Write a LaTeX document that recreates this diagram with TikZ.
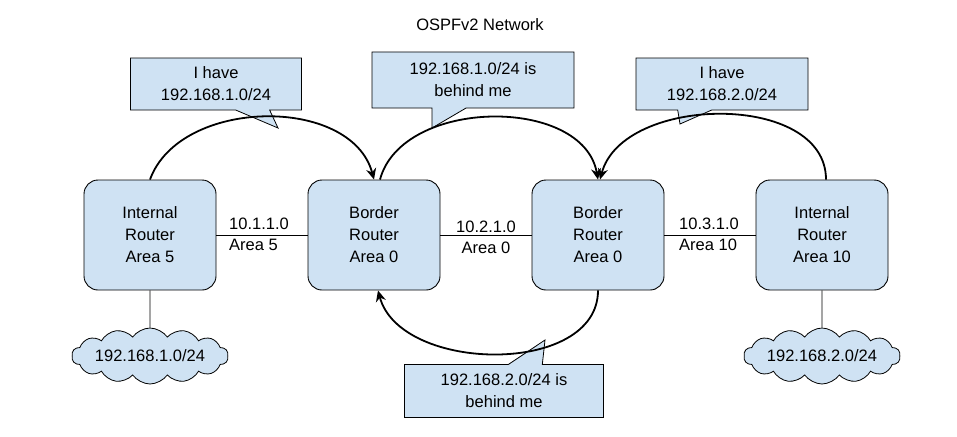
\documentclass[tikz,border=0pt]{standalone}
\usepackage{fontspec}
\setmainfont{Liberation Sans}
\usetikzlibrary{shapes.callouts,shapes.symbols,arrows.meta}
\definecolor{boxblue}{HTML}{CFE2F3}
\tikzset{
  router/.style={draw=black, line width=0.9pt, fill=boxblue, rounded corners=14pt, minimum width=132pt, minimum height=110pt, align=center, font=\fontsize{16.5}{22}\selectfont},
  note/.style={rectangle callout, draw=black, line width=0.8pt, fill=boxblue, callout pointer width=34pt, align=center, font=\fontsize{16.5}{22}\selectfont},
  net/.style={cloud, cloud puffs=14, cloud puff arc=110, aspect=4, draw=black, line width=0.8pt, fill=boxblue, minimum width=150pt, minimum height=42pt, inner sep=0pt, font=\fontsize{16.5}{19}\selectfont},
  lbl/.style={font=\fontsize{16.5}{19}\selectfont, inner sep=1pt},
  hop/.style={-{Stealth[length=11pt,width=10pt]}, line width=1.8pt}
}
\begin{document}
\begin{tikzpicture}[x=1pt,y=-1pt]
  \useasboundingbox (0,0) rectangle (957,436);
  \node[lbl] (title) at (480,25) {OSPFv2 Network};
  % routers
  \node[router] (ir5) at (150,235) {Internal\\Router\\Area 5};
  \node[router] (br1) at (374,235) {Border\\Router\\Area 0};
  \node[router] (br2) at (598,235) {Border\\Router\\Area 0};
  \node[router] (ir10) at (822,235) {Internal\\Router\\Area 10};
  % links
  \draw[line width=0.9pt] (ir5) -- (br1);
  \draw[line width=0.9pt] (br1) -- (br2);
  \draw[line width=0.9pt] (br2) -- (ir10);
  \node[lbl, anchor=west] (l1a) at (228,224) {10.1.1.0};
  \node[lbl, anchor=west] (l1b) at (228,245) {Area 5};
  \node[lbl] (l2a) at (486,227) {10.2.1.0};
  \node[lbl] (l2b) at (486,248) {Area 0};
  \node[lbl, anchor=west] (l3a) at (678,224) {10.3.1.0};
  \node[lbl, anchor=west] (l3b) at (678,245) {Area 10};
  % networks
  \node[net] (n1) at (150,356) {192.168.1.0/24};
  \node[net] (n2) at (822,356) {192.168.2.0/24};
  \draw[line width=0.9pt] (ir5) -- (n1);
  \draw[line width=0.9pt] (ir10) -- (n2);
  % adverts
  \coordinate (t1) at (278,128);
  \coordinate (t2) at (432,128);
  \coordinate (t3) at (680,124);
  \coordinate (t4) at (545,340);
  \node[note, minimum width=171pt, minimum height=52pt, callout absolute pointer=(t1)] (c1) at (216,84) {I have\\192.168.1.0/24};
  \node[note, minimum width=202pt, minimum height=56pt, callout absolute pointer=(t2)] (c2) at (473,80) {192.168.1.0/24 is\\behind me};
  \node[note, minimum width=172pt, minimum height=52pt, callout absolute pointer=(t3)] (c3) at (722,84) {I have\\192.168.2.0/24};
  \node[note, minimum width=199pt, minimum height=53pt, callout absolute pointer=(t4)] (c4) at (504,391) {192.168.2.0/24 is\\behind me};
  % arrows
  \draw[hop] (ir5.north) to[out=70,in=105,looseness=1] (br1.north);
  \draw[hop] ([xshift=6pt]br1.north) to[out=75,in=100,looseness=1] (br2.north);
  \draw[hop] ([xshift=4pt]ir10.north) to[out=90,in=75,looseness=1] ([xshift=2pt]br2.north);
  \draw[hop] (br2.south) to[out=-90,in=-75,looseness=1] ([xshift=4pt]br1.south);
\end{tikzpicture}
\end{document}
